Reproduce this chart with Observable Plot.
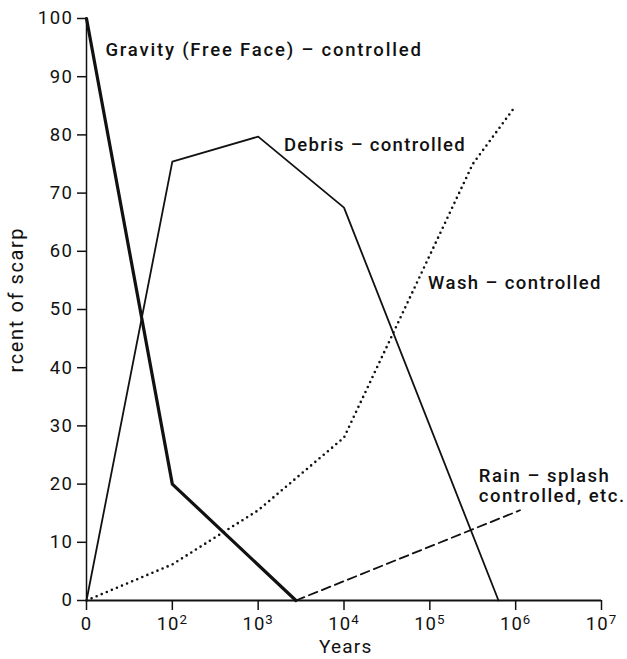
<!DOCTYPE html>
<html>
<head>
<meta charset="utf-8">
<script src="https://cdn.jsdelivr.net/npm/d3@7"></script>
<script src="https://cdn.jsdelivr.net/npm/@observablehq/plot@0.6"></script>
<style>
  html, body { margin: 0; padding: 0; background: #fff; }
  g[aria-label="y-axis tick label"] text { letter-spacing: 1.5px; }
  g[aria-label="x-axis tick label"] text { letter-spacing: 1px; }
</style>
</head>
<body>
<div id="chart"></div>
<script>
// x is the decimal exponent of years (the "0" tick sits at exponent 1)
const xTicks = [1, 2, 3, 4, 5, 6, 7];
const xTickLabels = ["0", "10²", "10³", "10⁴", "10⁵", "10⁶", "10⁷"];
const yTicks = [0, 10, 20, 30, 40, 50, 60, 70, 80, 90, 100];

const gravityX = [1, 2, 3.44];
const gravityY = [100, 20, 0];
const debrisX = [1, 2, 3, 4, 5.8];
const debrisY = [0, 75.4, 79.7, 67.5, 0];
const washX = [1, 2, 3, 4, 5.5, 6];
const washY = [0, 6.2, 15.5, 28, 75, 85];
const rainX = [3.44, 6.05];
const rainY = [0, 15.5];

const labelTexts = ["Gravity (Free Face) – controlled", "Debris – controlled", "Wash – controlled", "Rain – splash\ncontrolled, etc."];

const toRows = (xs, ys) => xs.map((x, i) => ({x, y: ys[i]}));
const FONT = "Roboto, 'Liberation Sans', Arial, sans-serif";
const labelStyle = {textAnchor: "start", fontSize: 18.5, fontWeight: 500, fill: "#111", fontFamily: FONT};

const plot = Plot.plot({
  width: 627,
  height: 659,
  marginLeft: 86,
  marginRight: 26,
  marginTop: 18,
  marginBottom: 59,
  style: {fontFamily: FONT, fontSize: "18px", color: "#111", background: "#fff"},
  x: {domain: [1, 7]},
  y: {domain: [0, 100]},
  marks: [
    Plot.axisX({ticks: xTicks, tickFormat: d => xTickLabels[xTicks.indexOf(d)], tickSize: 10, tickPadding: 6, label: null, fontSize: 18.5, stroke: "#111", strokeWidth: 1.5}),
    Plot.axisY({ticks: yTicks, tickSize: 9, tickPadding: 4, label: null, fontSize: 18.5, stroke: "#111", strokeWidth: 1.5}),
    Plot.ruleY([0], {x1: 1, x2: 7, stroke: "#111", strokeWidth: 2}),
    Plot.ruleX([1], {y1: 0, y2: 100, stroke: "#111", strokeWidth: 1.5}),
    Plot.line(toRows(gravityX, gravityY), {x: "x", y: "y", stroke: "#111", strokeWidth: 3.2}),
    Plot.line(toRows(debrisX, debrisY), {x: "x", y: "y", stroke: "#111", strokeWidth: 1.8}),
    Plot.line(toRows(washX, washY), {x: "x", y: "y", stroke: "#111", strokeWidth: 2.6, strokeDasharray: "0,5.5", strokeLinecap: "round"}),
    Plot.line(toRows(rainX, rainY), {x: "x", y: "y", stroke: "#111", strokeWidth: 1.8, strokeDasharray: "9,5"}),
    Plot.text([labelTexts[0]], {x: 1.22, y: 94.5, text: d => d, ...labelStyle}),
    Plot.text([labelTexts[1]], {x: 3.30, y: 78.2, text: d => d, ...labelStyle}),
    Plot.text([labelTexts[2]], {x: 4.98, y: 54.6, text: d => d, ...labelStyle}),
    Plot.text([labelTexts[3]], {x: 5.57, y: 19.8, text: d => d, ...labelStyle, lineHeight: 1.1}),
    Plot.text(["Years"], {x: 4.02, y: -8.0, text: d => d, fontSize: 19, fill: "#111"}),
    Plot.text(["rcent of scarp"], {x: 0.19, y: 51.7, text: d => d, rotate: -90, fontSize: 20, fill: "#111"})
  ]
});

// letter spacing of the annotation texts (in mark order)
const spacing = [1.8, 1.3, 1.4, 1.5, 1.2, 1.6];
d3.select(plot).selectAll('g[aria-label="text"]').each(function(_, i) {
  if (spacing[i] != null) d3.select(this).selectAll("text").style("letter-spacing", spacing[i] + "px");
});

// render the exponent of "10ⁿ" tick labels as a raised, smaller digit
const supMap = {"²": "2", "³": "3", "⁴": "4", "⁵": "5", "⁶": "6", "⁷": "7"};
d3.select(plot).selectAll('g[aria-label="x-axis tick label"] text').each(function() {
  const t = d3.select(this);
  const s = t.text();
  const m = s.match(/^10(.)$/);
  if (m && supMap[m[1]]) {
    t.text("10");
    t.append("tspan").attr("dy", "-0.42em").attr("font-size", "0.72em").text(supMap[m[1]]);
  }
});
document.getElementById("chart").appendChild(plot);
</script>
</body>
</html>
